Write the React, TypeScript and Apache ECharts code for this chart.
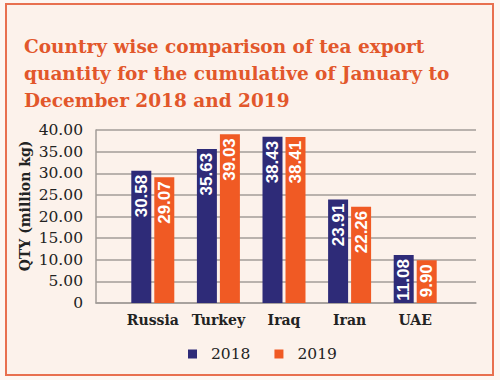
import React, { useEffect, useRef } from "react";
import * as echarts from "echarts";

const titleLines = [
  "Country wise comparison of tea export",
  "quantity for the cumulative of January to",
  "December 2018 and 2019",
];
const countries = ["Russia", "Turkey", "Iraq", "Iran", "UAE"];
const years = ["2018", "2019"];
const values2018 = [30.58, 35.63, 38.43, 23.91, 11.08];
const values2019 = [29.07, 39.03, 38.41, 22.26, 9.9];
const yAxisTitle = "QTY (million kg)";
const yMin = 0;
const yMax = 40;
const yStep = 5;

const NAVY = "#2e2b78";
const ORANGE = "#f05a24";
const GRID = "#a39d99";
const SERIF = "DejaVu Serif";

export default function App() {
  const ref = useRef<HTMLDivElement>(null);
  useEffect(() => {
    if (!ref.current) return;
    const chart = echarts.init(ref.current, null, { renderer: "svg" });
    const barLabel = {
      show: true,
      position: "insideTop",
      rotate: 90,
      align: "right",
      verticalAlign: "middle",
      distance: 4,
      color: "#ffffff",
      fontFamily: "Liberation Sans",
      fontWeight: "bold",
      fontSize: 17,
      formatter: (p: any) => p.value.toFixed(2),
    };
    chart.setOption({
      animation: false,
      backgroundColor: "#fdf6f1",
      graphic: [
        {
          type: "rect",
          shape: { x: 6, y: 4, width: 487, height: 371 },
          style: { fill: "#fcf2eb", stroke: "#e8704f", lineWidth: 2 },
          z: -10,
        },
        {
          type: "text",
          x: 25,
          y: 206,
          rotation: Math.PI / 2,
          style: {
            text: yAxisTitle,
            fill: "#222",
            font: `bold 14px "${SERIF}"`,
            textAlign: "center",
            textVerticalAlign: "middle",
          },
        },
      ],
      title: {
        text: titleLines.join("\n"),
        left: 19,
        top: 28,
        textStyle: {
          fontFamily: SERIF,
          fontWeight: "bold",
          fontSize: 18.5,
          lineHeight: 27,
          color: "#e2572b",
        },
      },
      legend: {
        data: years,
        left: 183,
        top: 341,
        icon: "rect",
        itemWidth: 9,
        itemHeight: 9,
        itemGap: 24,
        textStyle: {
          fontFamily: SERIF,
          fontSize: 15.5,
          color: "#222",
          padding: [0, 0, 0, 9],
        },
      },
      grid: [
        { left: 96, right: 24, top: 130, bottom: 77 },
        { left: 120, right: 52, top: 130, bottom: 77 },
      ],
      xAxis: [
        {
          gridIndex: 0,
          type: "value",
          min: 0,
          max: 1,
          axisLabel: { show: false },
          axisTick: { show: false },
          splitLine: { show: false },
          axisLine: { show: true, lineStyle: { color: GRID, width: 1.5 } },
        },
        {
          gridIndex: 1,
          type: "category",
          data: countries,
          axisLine: { show: false },
          axisTick: { show: false },
          axisLabel: {
            interval: 0,
            margin: 10,
            fontFamily: SERIF,
            fontWeight: "bold",
            fontSize: 14,
            color: "#222",
          },
        },
      ],
      yAxis: [
        {
          gridIndex: 0,
          type: "value",
          min: yMin,
          max: yMax,
          interval: yStep,
          axisLine: { show: true, lineStyle: { color: GRID, width: 1.5 } },
          axisTick: { show: false },
          splitLine: { show: true, lineStyle: { color: GRID, width: 1.5 } },
          axisLabel: {
            margin: 13,
            fontFamily: SERIF,
            fontSize: 15.5,
            color: "#222",
            formatter: (v: number) => (v === 0 ? "0" : v.toFixed(2)),
          },
        },
        {
          gridIndex: 1,
          type: "value",
          min: yMin,
          max: yMax,
          show: false,
          splitLine: { show: false },
        },
      ],
      series: [
        {
          name: years[0],
          type: "bar",
          xAxisIndex: 1,
          yAxisIndex: 1,
          data: values2018,
          barWidth: 20,
          barGap: "15%",
          itemStyle: { color: NAVY },
          label: barLabel,
        },
        {
          name: years[1],
          type: "bar",
          xAxisIndex: 1,
          yAxisIndex: 1,
          data: values2019,
          barWidth: 20,
          barGap: "15%",
          itemStyle: { color: ORANGE },
          label: barLabel,
        },
      ],
    });
    return () => chart.dispose();
  }, []);
  return (
    <div
      ref={ref}
      style={{ position: "fixed", left: 0, top: 0, width: 500, height: 380 }}
    />
  );
}
